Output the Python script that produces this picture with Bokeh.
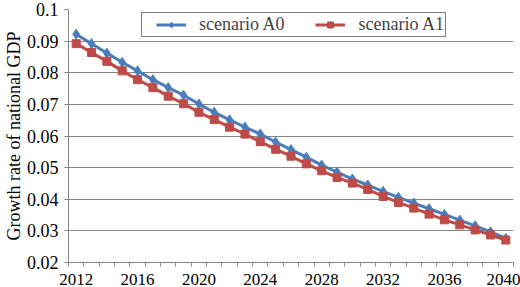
from bokeh.plotting import figure
from bokeh.models import FixedTicker, CustomJSTickFormatter, Range1d, Legend, LegendItem
from bokeh.embed import file_html
from bokeh.resources import INLINE

years = list(range(2012, 2041))
a0 = [0.0922, 0.0892, 0.0862, 0.0833, 0.0806, 0.0778, 0.0753, 0.0729, 0.0701, 0.0675,
      0.0651, 0.0628, 0.0606, 0.0581, 0.0557, 0.0533, 0.0508, 0.0486, 0.0464, 0.0445,
      0.0425, 0.0406, 0.0388, 0.0370, 0.0352, 0.0334, 0.0316, 0.0297, 0.0276]
a1 = [0.0892, 0.0864, 0.0836, 0.0806, 0.0778, 0.0753, 0.0726, 0.0702, 0.0675, 0.0652,
      0.0628, 0.0606, 0.0582, 0.0558, 0.0536, 0.0512, 0.0490, 0.0469, 0.0451, 0.0431,
      0.0409, 0.0390, 0.0372, 0.0353, 0.0335, 0.0319, 0.0303, 0.0287, 0.0271]
x_ticks = [2012, 2016, 2020, 2024, 2028, 2032, 2036, 2040]
y_ticks = [0.02, 0.03, 0.04, 0.05, 0.06, 0.07, 0.08, 0.09, 0.1]
labels = ["scenario A0", "scenario A1"]
y_title = "Growth rate of national GDP"
colors = ["#4A7EBB", "#BE4B48"]

FONT = "'Liberation Serif', 'Times New Roman', serif"
GRID = "#868686"

p = figure(width=520, height=287, output_backend="svg", toolbar_location=None,
           x_range=Range1d(years[0] - 0.5, years[-1] + 0.5),
           y_range=Range1d(y_ticks[0], y_ticks[-1]),
           min_border_left=56, min_border_right=7, min_border_top=9, min_border_bottom=23)
p.outline_line_color = None
p.background_fill_color = "white"

r0l = p.line(years, a0, line_color=colors[0], line_width=3)
r0m = p.scatter(years, a0, marker="diamond", size=10, fill_color=colors[0], line_color=colors[0])
r1l = p.line(years, a1, line_color=colors[1], line_width=3)
r1m = p.scatter(years, a1, marker="square", size=8, fill_color=colors[1], line_color=colors[1])

# x axis
xa = p.xaxis[0]
xa.ticker = FixedTicker(ticks=x_ticks, minor_ticks=[y - 0.5 for y in years] + [years[-1] + 0.5])
xa.major_tick_out = 0
xa.major_tick_in = 0
xa.minor_tick_out = 4
xa.minor_tick_in = 0
xa.minor_tick_line_color = GRID
xa.axis_line_color = GRID
xa.major_label_standoff = 7
xa.major_label_text_font = FONT
xa.major_label_text_font_size = "17px"
xa.major_label_text_color = "black"

# y axis
ya = p.yaxis[0]
ya.ticker = FixedTicker(ticks=y_ticks)
ya.formatter = CustomJSTickFormatter(code="return tick.toFixed(2).replace(/0$/, '');")
ya.major_tick_out = 4
ya.major_tick_in = 0
ya.minor_tick_line_color = None
ya.major_tick_line_color = GRID
ya.axis_line_color = GRID
ya.major_label_standoff = 6
ya.major_label_text_font = FONT
ya.major_label_text_font_size = "18px"
ya.major_label_text_color = "black"
ya.axis_label = y_title
ya.axis_label_text_font = FONT
ya.axis_label_text_font_size = "18px"
ya.axis_label_text_font_style = "normal"
ya.axis_label_text_color = "black"
ya.axis_label_standoff = 0

p.xgrid.grid_line_color = None
p.ygrid.ticker = FixedTicker(ticks=y_ticks)
p.ygrid.grid_line_color = GRID
p.ygrid.grid_line_width = 1

legend = Legend(items=[LegendItem(label=labels[0], renderers=[r0l, r0m]),
                       LegendItem(label=labels[1], renderers=[r1l, r1m])],
                orientation="horizontal", location=(73, 225),
                title=" ", title_location="left", title_standoff=8,
                title_text_font_size="4px",
                padding=1, spacing=31, glyph_width=30, glyph_height=15,
                label_standoff=13, label_width=84, label_height=15,
                label_text_font=FONT, label_text_font_size="18px",
                border_line_color="black", border_line_width=1,
                background_fill_color="white", background_fill_alpha=1,
                margin=0)
p.add_layout(legend, "center")

open("out.html", "w").write(file_html(p, INLINE))
